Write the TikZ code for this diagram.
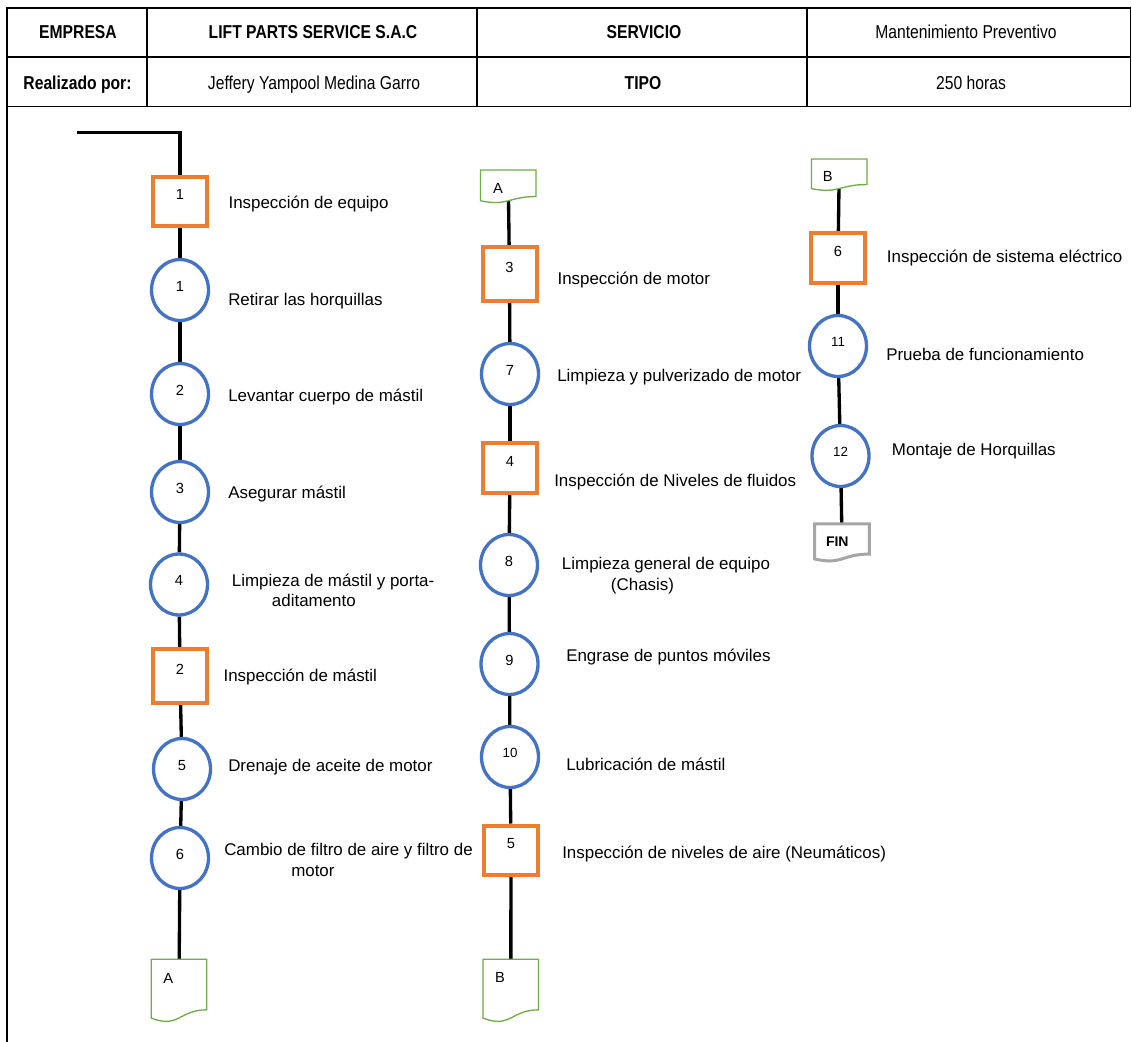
\documentclass[tikz,border=0pt]{standalone}
\usepackage{fontspec}
\setmainfont{Liberation Sans}
\newfontfamily\hdrfont[FakeStretch=0.84]{Liberation Sans}
\usetikzlibrary{shapes.geometric,calc}
\pgfdeclarelayer{background}
\pgfsetlayers{background,main}
\definecolor{insporange}{HTML}{ED7D31}
\definecolor{opblue}{HTML}{4472C4}
\definecolor{docgreen}{HTML}{70AD47}
\definecolor{fingray}{HTML}{A5A5A5}

% outline of a flowchart "document" symbol around an invisible frame node
% #1 frame node, #2 frame height in px, #3 line style
\newcommand\docoutline[3]{%
  \draw[#3] (#1.north west) -- (#1.north east) -- (#1.south east)
    .. controls (#1.south) and ($(#1.south)+(0,{0.38*#2})$) ..
    ($(#1.south west)+(0,{0.165*#2})$) -- cycle;}

\begin{document}
\begin{tikzpicture}[x=0.75pt,y=-0.75pt,
  conn/.style={line width=2.5pt, black},
  grid/.style={line width=1.3pt, black},
  insp/.style={rectangle, draw=insporange, line width=3pt, fill=white,
    minimum width=40.5pt, minimum height=37.5pt, inner sep=1pt,
    font=\fontsize{11}{13}\selectfont, text height=7.9pt, text depth=9.8pt},
  oper/.style={ellipse, draw=opblue, line width=2.5pt, fill=white,
    minimum width=42.75pt, minimum height=45.75pt, inner sep=1pt,
    font=\fontsize{11}{13}\selectfont, text height=7.9pt, text depth=6pt},
  operii/.style={oper, font=\fontsize{10}{12}\selectfont, text height=7.2pt, text depth=6.5pt},
  docframe/.style={rectangle, draw=none, inner sep=0pt, anchor=north,
    minimum width=41.25pt},
  docline/.style={draw=docgreen, line width=1pt, fill=white},
  docfin/.style={draw=fingray, line width=2.25pt, fill=white},
  doctext/.style={inner sep=0pt, font=\fontsize{11}{13}\selectfont,
    text height=7.9pt, text depth=0pt},
  lab/.style={anchor=west, inner sep=0pt, font=\fontsize{12.7}{15}\selectfont,
    text height=9.2pt, text depth=0pt},
  hdrb/.style={anchor=base, inner sep=0pt,
    font=\hdrfont\bfseries\fontsize{14}{16}\selectfont},
  hdrr/.style={anchor=base, inner sep=0pt,
    font=\hdrfont\fontsize{14}{16}\selectfont}
]
\useasboundingbox (0,0) rectangle (1132,1042);

% ---------- header table ----------
\draw[grid] (7,8) rectangle (1130.5,106.5);
\draw[grid] (7,57) -- (1130.5,57);
\draw[grid] (147,8) -- (147,106.5) (477,8) -- (477,106.5) (807,8) -- (807,106.5);
\draw[line width=2.2pt] (7,106.5) -- (7,1042);

\node[hdrb] (hEmp) at (78,38) {EMPRESA};
\node[hdrb] (hLps) at (313,38) {LIFT PARTS SERVICE S.A.C};
\node[hdrb] (hSer) at (644,38) {SERVICIO};
\node[hdrr] (hMan) at (966,38) {Mantenimiento Preventivo};
\node[hdrb] (hRea) at (77.5,89.5) {Realizado por:};
\node[hdrr] (hJef) at (314,89.5) {Jeffery Yampool Medina Garro};
\node[hdrb] (hTip) at (643,89.5) {TIPO};
\node[hdrr] (hHor) at (971,89.5) {250 horas};

% ---------- left column ----------
\coordinate (start) at (77,132.5);
\node[insp, minimum height=36.75pt] (sq1) at (180,201) {1};
\node[oper] (c1) at (180,290) {1};
\node[oper] (c2) at (180,394) {2};
\node[oper] (c3) at (180,492) {3};
\node[oper] (c4) at (179,584.5) {4};
\node[insp, minimum height=40.5pt] (sq2) at (180,676) {2};
\node[oper] (c5) at (182,769) {5};
\node[oper] (c6) at (180,858) {6};
\node[docframe, minimum height=37.5pt] (Abot) at (179,959.3) {};

% ---------- middle column ----------
\node[docframe, minimum height=19.5pt] (Atop) at (508.3,170) {};
\node[insp, minimum height=40.5pt] (sq3) at (509.5,274) {3};
\node[oper] (c7) at (510,374) {7};
\node[insp] (sq4) at (510,468) {4};
\node[oper] (c8) at (509,565) {8};
\node[oper] (c9) at (509.5,664) {9};
\node[operii] (c10) at (510,757) {10};
\node[insp, minimum height=36.75pt] (sq5) at (511,850) {5};
\node[docframe, minimum height=37.5pt] (Bbot) at (510.8,959.3) {};

% ---------- right column ----------
\node[docframe, minimum height=18.75pt] (Btop) at (839.2,159) {};
\node[insp] (sq6) at (838,258) {6};
\node[operii] (c11) at (838,346) {11};
\node[operii] (c12) at (840.5,456) {12};
\node[docframe, minimum height=22.3pt, minimum width=40.5pt] (fin) at (842,523.8) {};

% ---------- connectors ----------
\begin{pgfonlayer}{background}
\draw[conn] (start) -| (sq1);
\foreach \a/\b in {sq1/c1, c1/c2, c2/c3, c3/c4, c4/sq2, sq2/c5, c5/c6, c6/Abot,
                   Atop/sq3, sq3/c7, c7/sq4, sq4/c8, c8/c9, c9/c10, c10/sq5, sq5/Bbot,
                   Btop/sq6, sq6/c11, c11/c12, c12/fin}
  \draw[conn] (\a) -- (\b);
\end{pgfonlayer}

% ---------- connector symbols ----------
\docoutline{Abot}{50}{docline}
\docoutline{Atop}{26}{docline}
\docoutline{Bbot}{50}{docline}
\docoutline{Btop}{25}{docline}
\docoutline{fin}{29.7}{docfin}
\node[doctext] (tAbot) at (168.3,978.3) {A};
\node[doctext] (tAtop) at (498,188.3) {A};
\node[doctext] (tBbot) at (500,977.7) {B};
\node[doctext] (tBtop) at (827.7,176.7) {B};
\node[doctext, font=\bfseries\fontsize{10.5}{12}\selectfont] (tFin) at (837.3,541) {FIN};

% ---------- step descriptions ----------
\node[lab] (l1) at (228.3,202.7) {Inspección de equipo};
\node[lab] (l2) at (228,299) {Retirar las horquillas};
\node[lab] (l3) at (228,395) {Levantar cuerpo de mástil};
\node[lab] (l4) at (228,492) {Asegurar mástil};
\node[lab] (l5a) at (231.7,580.7) {Limpieza de mástil y porta-};
\node[lab] (l5b) at (271.7,600.7) {aditamento};
\node[lab] (l6) at (223.3,675) {Inspección de mástil};
\node[lab] (l7) at (228,765) {Drenaje de aceite de motor};
\node[lab] (l8a) at (224,849.3) {Cambio de filtro de aire y filtro de};
\node[lab] (l8b) at (291,870) {motor};
\node[lab] (l9) at (557.3,278.3) {Inspección de motor};
\node[lab] (l10) at (557,375) {Limpieza y pulverizado de motor};
\node[lab] (l11) at (554,480) {Inspección de Niveles de fluidos};
\node[lab] (l12a) at (561.7,563.3) {Limpieza general de equipo};
\node[lab] (l12b) at (610.7,584) {(Chasis)};
\node[lab] (l13) at (566,655) {Engrase de puntos móviles};
\node[lab] (l14) at (566,764) {Lubricación de mástil};
\node[lab] (l15) at (562,852) {Inspección de niveles de aire (Neumáticos)};
\node[lab] (l16) at (886.7,256.7) {Inspección de sistema eléctrico};
\node[lab] (l17) at (886,354) {Prueba de funcionamiento};
\node[lab] (l18) at (891.7,449.3) {Montaje de Horquillas};
\end{tikzpicture}
\end{document}
